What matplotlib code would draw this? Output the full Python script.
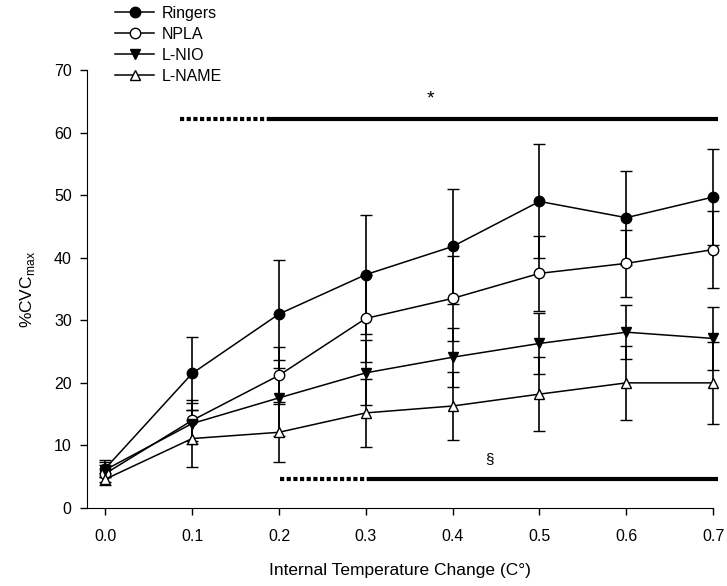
import numpy as np
import matplotlib.pyplot as plt
from matplotlib.lines import Line2D

plt.rcParams['font.family'] = ['Liberation Sans', 'DejaVu Sans']

temp_change = [0.0, 0.1, 0.2, 0.3, 0.4, 0.5, 0.6, 0.7]

ringers = [6.3, 21.5, 31.0, 37.3, 41.8, 49.0, 46.4, 49.7]
ringers_err = [1.3, 5.8, 8.7, 9.5, 9.2, 9.1, 7.5, 7.7]
npla = [5.5, 14.0, 21.2, 30.3, 33.5, 37.5, 39.1, 41.3]
npla_err = [1.3, 3.3, 4.6, 7.0, 6.8, 6.0, 5.3, 6.2]
lnio = [6.1, 13.5, 17.6, 21.6, 24.1, 26.3, 28.1, 27.1]
lnio_err = [1.2, 3.3, 6.1, 5.2, 4.7, 4.9, 4.3, 5.0]
lname = [4.6, 11.1, 12.1, 15.2, 16.3, 18.2, 20.0, 20.0]
lname_err = [1.0, 4.5, 4.8, 5.4, 5.4, 5.9, 5.9, 6.5]

series = [
    ("Ringers", ringers, ringers_err, 'o', 'black'),
    ("NPLA", npla, npla_err, 'o', 'white'),
    ("L-NIO", lnio, lnio_err, 'v', 'black'),
    ("L-NAME", lname, lname_err, '^', 'white'),
]

# significance bars: (dotted start, solid start, end, y, symbol, symbol x, symbol y)
sig_top = (0.086, 0.19, 0.705, 62.2, '*', 0.374, 65.3)
sig_bottom = (0.201, 0.302, 0.705, 4.6, '\u00a7', 0.442, 7.8)

fig = plt.figure(figsize=(7.27, 5.86), dpi=100)
ax = fig.add_axes([0.1197, 0.1331, 0.8613, 0.7474])

handles = []
for name, vals, errs, mk, fc in series:
    ax.errorbar(temp_change, vals, yerr=errs, color='black', ecolor='black',
                elinewidth=1.2, capsize=4.5, capthick=1.2, lw=1.1,
                marker=mk, markersize=7.5, markerfacecolor=fc,
                markeredgecolor='black', markeredgewidth=1,
                clip_on=False, zorder=3)
    handles.append(Line2D([], [], color='black', lw=1.1, marker=mk,
                          markersize=7.5, markerfacecolor=fc,
                          markeredgecolor='black', label=name))

for d0, s0, end, yy, sym, sx, sy in [sig_top, sig_bottom]:
    ax.plot([d0, s0], [yy, yy], color='black', lw=3, linestyle=(0, (1, 0.6)),
            solid_capstyle='butt', dash_capstyle='butt', clip_on=False)
    ax.plot([s0, end], [yy, yy], color='black', lw=3, solid_capstyle='butt',
            clip_on=False)
ax.text(sig_top[5], sig_top[6], sig_top[4], ha='center', va='center', fontsize=14)
ax.text(sig_bottom[5], sig_bottom[6], sig_bottom[4], ha='center', va='center', fontsize=11)

ax.set_xlim(-0.021, 0.7)
ax.set_ylim(0, 70)
ax.set_xticks(temp_change)
ax.set_xticklabels(["%.1f" % t for t in temp_change])
ax.set_yticks(range(0, 71, 10))
ax.spines['top'].set_visible(False)
ax.spines['right'].set_visible(False)
ax.tick_params(direction='out', length=5, width=1, labelsize=11.5, pad=6)
ax.tick_params(axis='x', pad=10)
ax.set_xlabel("Internal Temperature Change (C\u00b0)", fontsize=12.5, labelpad=14)
ax.set_ylabel("%CVC$_{\\mathregular{max}}$", fontsize=12.5, labelpad=12)

fig.legend(handles=handles, loc='upper left', bbox_to_anchor=(0.139, 1.015),
           frameon=False, fontsize=11.5, handlelength=2.4, labelspacing=0.38,
           handletextpad=0.5)

fig.savefig("out.png", dpi=100)
